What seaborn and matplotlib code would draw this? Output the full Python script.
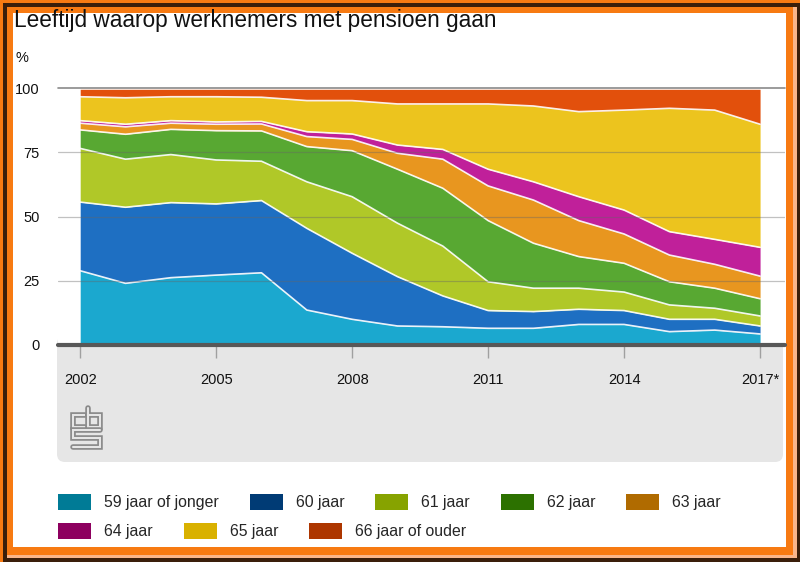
import numpy as np
import pandas as pd
import matplotlib.pyplot as plt
import seaborn as sns
from matplotlib.patches import Rectangle, FancyBboxPatch, Patch
from matplotlib.lines import Line2D
from matplotlib.transforms import Affine2D

# ------------------------------------------------------------
# DATA (aandeel in %)
# ------------------------------------------------------------
jaren = list(range(2002, 2018))
tick_jaren = [2002, 2005, 2008, 2011, 2014, 2017]
tick_labels = ['2002', '2005', '2008', '2011', '2014', '2017*']

categorieen = ['59 jaar of jonger', '60 jaar', '61 jaar', '62 jaar',
               '63 jaar', '64 jaar', '65 jaar', '66 jaar of ouder']

jaar_59 = [28.9, 24.0, 26.2, 27.2, 28.1, 13.6, 10.0, 7.4, 7.1, 6.5, 6.5, 8.0, 8.0, 5.2, 5.8, 4.3]
jaar_60 = [26.7, 29.6, 29.2, 27.7, 28.1, 31.8, 25.7, 19.2, 12.0, 6.9, 6.5, 5.9, 5.4, 4.8, 4.2, 3.1]
jaar_61 = [20.9, 18.7, 18.7, 17.1, 15.3, 18.1, 22.0, 20.8, 19.4, 11.2, 9.1, 8.2, 7.2, 5.6, 4.3, 3.9]
jaar_62 = [7.2, 9.7, 9.8, 11.4, 11.8, 13.7, 17.9, 21.0, 22.5, 23.8, 17.5, 12.3, 11.2, 9.0, 7.8, 6.7]
jaar_63 = [2.6, 2.9, 2.4, 2.5, 2.7, 3.9, 4.4, 6.2, 11.3, 13.5, 16.8, 14.0, 11.4, 10.4, 9.3, 8.8]
jaar_64 = [1.0, 1.0, 1.0, 0.9, 1.0, 1.9, 2.1, 3.2, 3.8, 6.5, 7.1, 9.3, 9.3, 9.1, 9.7, 11.2]
jaar_65 = [9.3, 10.3, 9.3, 9.8, 9.4, 12.1, 13.0, 16.0, 17.7, 25.4, 29.5, 33.1, 38.9, 48.0, 50.3, 47.9]
jaar_66 = [2.9, 3.3, 2.9, 2.9, 3.1, 4.4, 4.4, 5.7, 5.7, 5.7, 6.5, 8.7, 8.1, 7.4, 8.1, 13.6]

reeksen = [jaar_59, jaar_60, jaar_61, jaar_62, jaar_63, jaar_64, jaar_65, jaar_66]

kleuren_vlak = ['#1ba8cf', '#1e6fc2', '#b0c828', '#58a832',
                '#e8961f', '#c0209a', '#ecc41e', '#e2500c']
kleuren_legenda = ['#007b96', '#003b75', '#87a300', '#2c7100',
                   '#b06b00', '#8d005f', '#d9b100', '#ad3600']

# ------------------------------------------------------------
# OPMAAK
# ------------------------------------------------------------
sns.set_style('white')
plt.rcParams['font.family'] = ['Liberation Sans', 'DejaVu Sans']

W, H = 800, 562
fig = plt.figure(figsize=(W / 100, H / 100), dpi=100)
fig.patch.set_facecolor('#f77a12')

# pixel-coordinaten met y naar beneden
pix = Affine2D().scale(1 / W, -1 / H).translate(0, 1) + fig.transFigure

# lijst rondom
fig.add_artist(Rectangle((3, 3), W - 3, H - 3, transform=pix, fc='#3a1e0a', ec='none', zorder=-5))
fig.add_artist(Rectangle((7, 7), 790, 551, transform=pix, fc='#f9b58a', ec='none', zorder=-4))
fig.add_artist(Rectangle((7, 7), 786, 548, transform=pix, fc='#f77a12', ec='none', zorder=-3))
fig.add_artist(Rectangle((13, 13), 773, 534, transform=pix, fc='white', ec='none', zorder=-2))

# grijs paneel onder de grafiek
fig.add_artist(FancyBboxPatch((57, 336), 726, 126, transform=pix,
                              boxstyle='round,pad=0,rounding_size=8',
                              fc='#e6e6e6', ec='none', zorder=-1))

# ------------------------------------------------------------
# GRAFIEK
# ------------------------------------------------------------
ax = fig.add_axes([58 / W, 1 - 345 / H, 727 / W, 257 / H])
ax.set_facecolor('white')

ax.stackplot(jaren, *reeksen, colors=kleuren_vlak, linewidth=0, zorder=2)

# witte scheidingslijnen tussen de lagen
cum = np.cumsum(np.array(reeksen), axis=0)
grenzen = pd.DataFrame([
    {'jaar': j, 'grens': cum[i, k], 'laag': categorieen[i]}
    for i in range(len(reeksen) - 1) for k, j in enumerate(jaren)
])
sns.lineplot(data=grenzen, x='jaar', y='grens', units='laag', estimator=None,
             color='white', linewidth=1.2, alpha=0.9, ax=ax, legend=False, zorder=3)

# rasterlijnen
for y in [25, 50, 75]:
    ax.axhline(y, color='#666666', lw=0.9, alpha=0.4, zorder=4)
ax.axhline(100, color='#8a8a8a', lw=1.2, zorder=4, clip_on=False)
ax.axhline(0, color='#585858', lw=3, zorder=6, clip_on=False)

ax.set_xlim(2001.51, 2017.55)
ax.set_ylim(0, 100)
ax.set_xlabel('')
ax.set_ylabel('')
ax.set_xticks(tick_jaren)
ax.set_xticklabels(tick_labels)
ax.set_yticks([0, 25, 50, 75, 100])
ax.tick_params(axis='x', length=9, width=1, color='#a0a0a0', pad=11,
               labelsize=10.5, labelcolor='#111111', direction='out', bottom=True)
ax.tick_params(axis='y', length=0, pad=13, labelsize=10.5, labelcolor='#111111')
sns.despine(ax=ax, left=True, bottom=True)

# titel en eenheid
fig.text(14, 21, 'Leeftijd waarop werknemers met pensioen gaan', transform=pix,
         ha='left', va='center', fontsize=16.3, color='#111111')
fig.text(15, 58, '%', transform=pix, ha='left', va='center', fontsize=10.5, color='#111111')

# cbs-logo (eenvoudige benadering)
logo = [
    ([85, 73, 73, 85], [415, 415, 427, 427]),
    ([88, 88, 100, 100, 88], [408, 427, 427, 415, 415]),
    ([100, 73, 73, 100, 100, 73], [430, 430, 438, 438, 447, 447]),
]
for xs, ys in logo:
    fig.add_artist(Line2D(xs, ys, transform=pix, color='#8a8a8a', lw=4,
                          solid_joinstyle='miter', zorder=1))
    fig.add_artist(Line2D(xs, ys, transform=pix, color='#e6e6e6', lw=1.5,
                          solid_joinstyle='miter', zorder=1))

# legenda in twee rijen
handles = [Patch(facecolor=c, edgecolor='none', label=l)
           for c, l in zip(kleuren_legenda, categorieen)]
opties = dict(loc='center left', frameon=False, fontsize=11.4, handlelength=2.09,
              handleheight=1.27, handletextpad=0.82, columnspacing=1.95,
              borderpad=0, borderaxespad=0)
fig.legend(handles=handles[:5], ncol=5, bbox_to_anchor=(58 / W, 1 - 502 / H), **opties)
fig.legend(handles=handles[5:], ncol=3, bbox_to_anchor=(58 / W, 1 - 531 / H), **opties)

fig.savefig('out.png', dpi=100, facecolor=fig.get_facecolor())
